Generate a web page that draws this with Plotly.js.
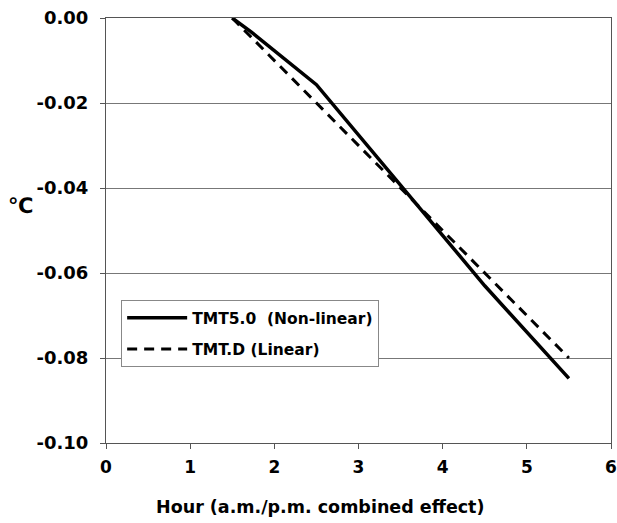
<!DOCTYPE html>
<html>
<head>
<meta charset="utf-8">
<script src="https://cdn.plot.ly/plotly-3.0.1.min.js"></script>
<style>html,body{margin:0;padding:0;background:#fff;}#chart{width:617px;height:523px;}</style>
</head>
<body>
<div id="chart"></div>
<script>
// Data
const hoursNonLinear = [1.5, 1.72, 2.5, 3.5, 4.5, 5.5];
const tmt50 = [0.0, -0.0032, -0.0157, -0.0392, -0.0630, -0.0848];
const hoursLinear = [1.5, 2.5, 3.5, 4.5, 5.5];
const tmtD = [0.0, -0.020, -0.040, -0.060, -0.080];
const seriesNames = ["TMT5.0  (Non-linear)", "TMT.D (Linear)"];
const xTicks = [0, 1, 2, 3, 4, 5, 6];
const yTicks = [0, -0.02, -0.04, -0.06, -0.08, -0.10];
const yTickText = ["0.00", "-0.02", "-0.04", "-0.06", "-0.08", "-0.10"];
const xTitle = "Hour (a.m./p.m. combined effect)";
const yTitle = "℃";

const fontFam = "DejaVu Sans";
const fnt = (size) => ({family: fontFam, size: size, color: "#000", weight: 700});

const traces = [
  {x: hoursNonLinear, y: tmt50, name: seriesNames[0], mode: "lines", legendgroup: "a",
   line: {color: "#000", width: 3.5}},
  {x: hoursLinear, y: tmtD, name: seriesNames[1], mode: "lines", legendgroup: "b",
   line: {color: "#000", width: 3, dash: "10px,7px"}}
];

const layout = {
  width: 617, height: 523,
  margin: {l: 106, r: 6, t: 18, b: 80},
  paper_bgcolor: "#fff", plot_bgcolor: "#fff",
  font: fnt(17),
  showlegend: true,
  legend: {x: 0.03, y: 0.336, xanchor: "left", yanchor: "top",
           bgcolor: "#fff", bordercolor: "#888", borderwidth: 1,
           font: fnt(15.5), itemwidth: 60,
           traceorder: "grouped", tracegroupgap: 8},
  xaxis: {range: [0, 6], tickvals: xTicks, ticktext: xTicks.map(String),
          showgrid: false, zeroline: false, showline: true, linecolor: "#555", linewidth: 1,
          mirror: true, ticks: "outside", ticklen: 5, tickcolor: "#555",
          ticklabelstandoff: 4, tickfont: fnt(17)},
  yaxis: {range: [-0.10, 0], tickvals: yTicks, ticktext: yTickText,
          showgrid: true, gridcolor: "#777", gridwidth: 1, zeroline: false,
          showline: true, linecolor: "#555", linewidth: 1, mirror: true,
          ticks: "outside", ticklen: 5, tickcolor: "#555",
          ticklabelstandoff: 8, tickfont: fnt(18)},
  annotations: [
    {text: yTitle, xref: "paper", yref: "paper", x: -0.17, y: 0.558,
     xanchor: "center", yanchor: "middle", showarrow: false, font: fnt(21)},
    {text: xTitle, xref: "paper", yref: "paper", x: 0.424, y: -0.151,
     xanchor: "center", yanchor: "middle", showarrow: false, font: fnt(17.5)}
  ]
};

Plotly.newPlot("chart", traces, layout, {displayModeBar: false, staticPlot: true});
</script>
</body>
</html>
